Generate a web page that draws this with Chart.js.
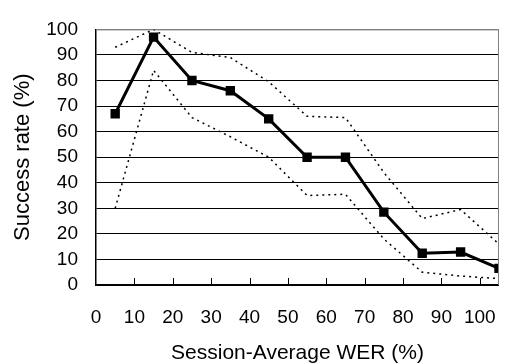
<!DOCTYPE html>
<html>
<head>
<meta charset="utf-8">
<script src="https://cdn.jsdelivr.net/npm/chart.js@4.4.1/dist/chart.umd.min.js"></script>
<style>
  html, body { margin: 0; padding: 0; background: #fff; }
</style>
</head>
<body>
<canvas id="grafico" width="517" height="364"></canvas>
<script>
const wer = [5, 15, 25, 35, 45, 55, 65, 75, 85, 95, 105]
const successRate = [67, 97, 80, 76, 65, 50, 50, 28.5, 12.4, 12.9, 6.5]
const upperBound = [93, 100, 91, 89, 79.5, 66, 65.5, 44, 26, 29.5, 16]
const lowerBound = [30, 84, 65.5, 58, 50, 35, 35.5, 18, 5, 3.5, 2.5]
const xTicks = [0, 10, 20, 30, 40, 50, 60, 70, 80, 90, 100]
const yTicks = [0, 10, 20, 30, 40, 50, 60, 70, 80, 90, 100]

const toPoints = (ys) => wer.map((x, i) => ({ x: x, y: ys[i] }))

// inner tick marks on the x axis + grey frame on top/right
const frame = {
    id: 'frame',
    afterDraw(chart) {
        const ctx = chart.ctx
        const area = chart.chartArea
        const xs = chart.scales.x
        ctx.save()
        ctx.strokeStyle = '#000'
        ctx.lineWidth = 1
        xTicks.slice(1).forEach(v => {
            const px = Math.round(xs.getPixelForValue(v)) + 0.5
            ctx.beginPath()
            ctx.moveTo(px, area.bottom)
            ctx.lineTo(px, area.bottom - 7)
            ctx.stroke()
        })
        ctx.strokeStyle = '#808080'
        ctx.beginPath()
        ctx.moveTo(area.left, area.top + 0.5)
        ctx.lineTo(area.right - 0.5, area.top + 0.5)
        ctx.lineTo(area.right - 0.5, area.bottom)
        ctx.stroke()
        ctx.restore()
    }
}

const family = '"Liberation Sans", Arial, sans-serif'
const tickFont = { family: family, size: 19 }

new Chart(document.getElementById('grafico'), {
    type: 'scatter',
    data: {
        datasets: [{
            data: toPoints(successRate),
            showLine: true,
            borderColor: '#000',
            backgroundColor: '#000',
            borderWidth: 3,
            pointStyle: 'rect',
            pointRadius: 4.5,
            order: 0
        }, {
            data: toPoints(upperBound),
            showLine: true,
            borderColor: '#000',
            borderWidth: 1.5,
            borderDash: [2, 4],
            pointRadius: 0,
            order: 1
        }, {
            data: toPoints(lowerBound),
            showLine: true,
            borderColor: '#000',
            borderWidth: 1.5,
            borderDash: [2, 4],
            pointRadius: 0,
            order: 2
        }]
    },
    options: {
        responsive: false,
        animation: false,
        devicePixelRatio: 1,
        layout: { padding: { top: 17, right: 1, left: 0, bottom: 0 } },
        plugins: {
            legend: { display: false },
            tooltip: { enabled: false }
        },
        scales: {
            x: {
                type: 'linear',
                min: 0,
                max: 105,
                afterBuildTicks: (s) => { s.ticks = xTicks.map(v => ({ value: v })) },
                afterFit: (s) => { s.height = 79 },
                grid: { display: false, drawTicks: false },
                border: { color: '#000', width: 1.5 },
                ticks: { color: '#000', font: tickFont, padding: 21, maxRotation: 0, autoSkip: false },
                title: {
                    display: true,
                    text: 'Session-Average WER (%)',
                    color: '#000',
                    font: { family: family, size: 21 },
                    padding: { top: 0, bottom: -2 }
                }
            },
            y: {
                min: 0,
                max: 100,
                afterBuildTicks: (s) => { s.ticks = yTicks.map(v => ({ value: v })) },
                afterFit: (s) => { s.width = 96 },
                grid: {
                    drawTicks: false,
                    color: (c) => c.tick && c.tick.value === 100 ? '#808080' : '#000',
                    lineWidth: 1
                },
                border: { color: '#000', width: 1.5 },
                ticks: { color: '#000', font: tickFont, padding: 18, autoSkip: false },
                title: {
                    display: true,
                    text: 'Success rate (%)',
                    color: '#000',
                    font: { family: family, size: 22 },
                    padding: { top: 10, bottom: 0 }
                }
            }
        }
    },
    plugins: [frame]
})
</script>
</body>
</html>
